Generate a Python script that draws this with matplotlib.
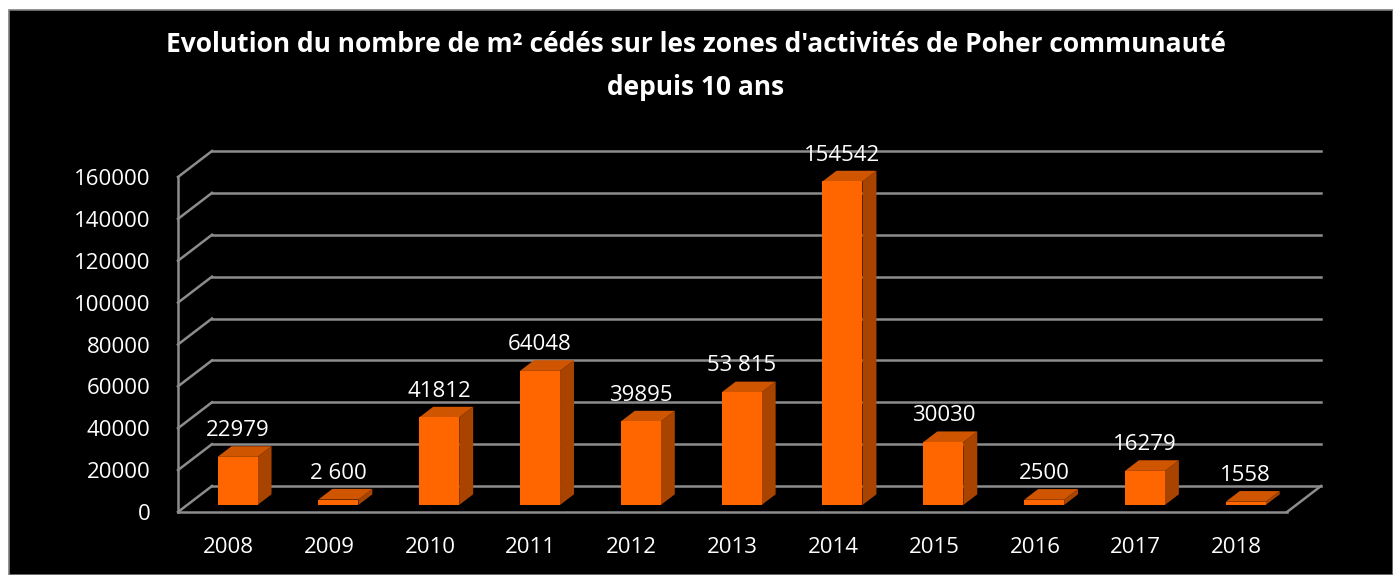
import matplotlib.pyplot as plt
from matplotlib.patches import Polygon, Rectangle

plt.rcParams['font.family'] = ['Open Sans', 'DejaVu Sans']

years = ['2008', '2009', '2010', '2011', '2012', '2013', '2014', '2015', '2016', '2017', '2018']
surfaces = [22979, 2600, 41812, 64048, 39895, 53815, 154542, 30030, 2500, 16279, 1558]
value_labels = ['22979', '2 600', '41812', '64048', '39895', '53 815', '154542', '30030', '2500', '16279', '1558']
yticks = [0, 20000, 40000, 60000, 80000, 100000, 120000, 140000, 160000]
title = "Evolution du nombre de m² cédés sur les zones d'activités de Poher communauté\ndepuis 10 ans"

W, H = 1393, 575
fig = plt.figure(figsize=(W / 100, H / 100), dpi=100, facecolor='white')

# black panel with thin grey frame
fig.add_artist(Rectangle((9 / W, 0), 1 - 9 / W, 1 - 10 / H, transform=fig.transFigure,
                         facecolor='black', edgecolor='#7f7f7f', linewidth=1.2, zorder=0))

# front plane of the pseudo 3D box
x0, x1, y0, y1 = 178, 1287, 512, 177
ax = fig.add_axes([x0 / W, 1 - y0 / H, (x1 - x0) / W, (y0 - y1) / H])
ax.set_facecolor('none')
n = len(years)
ymax = 160000
ax.set_xlim(-0.5, n - 0.5)
ax.set_ylim(0, ymax)

# depth of the box in data units (34 px right, 26 px up)
cat_px = (x1 - x0) / n
DX = 34 / cat_px
DY = 26 * ymax / (y0 - y1)

grid = dict(color='#8c8c8c', linewidth=1.8, clip_on=False, zorder=1)
for v in yticks:
    ax.plot([-0.5 + DX, n - 0.5 + DX], [v + DY, v + DY], **grid)
    ax.plot([-0.5, -0.5 + DX], [v, v + DY], **grid)
ax.plot([-0.5, -0.5], [0, ymax], **grid)
ax.plot([-0.5, n - 0.5], [0, 0], **grid)
ax.plot([n - 0.5, n - 0.5 + DX], [0, DY], **grid)

# bars sit between 27% and 68% of the depth
f1, f2 = 0.27, 0.68
bw = 40 / cat_px
ddx, ddy = (f2 - f1) * DX, (f2 - f1) * DY
for i, v in enumerate(surfaces):
    c = i + f1 * DX
    base = f1 * DY
    top = base + v
    l, r = c - bw / 2, c + bw / 2
    ax.add_patch(Polygon([(r, base), (r + ddx, base + ddy), (r + ddx, top + ddy), (r, top)],
                         closed=True, facecolor='#a84400', edgecolor='none', clip_on=False, zorder=3))
    ax.add_patch(Polygon([(l, top), (r, top), (r + ddx, top + ddy), (l + ddx, top + ddy)],
                         closed=True, facecolor='#cf5500', edgecolor='none', clip_on=False, zorder=3))
    ax.add_patch(Polygon([(l, base), (r, base), (r, top), (l, top)],
                         closed=True, facecolor='#ff6600', edgecolor='none', clip_on=False, zorder=4))
    ax.annotate(value_labels[i], (c, top), xytext=(0, 19), textcoords='offset points',
                ha='center', va='center', color='white', fontsize=16, zorder=5,
                annotation_clip=False)

for s in ax.spines.values():
    s.set_visible(False)
ax.set_xticks(range(n))
ax.set_xticklabels(years)
ax.set_yticks(yticks)
ax.set_yticklabels([str(t) for t in yticks])
ax.tick_params(axis='both', length=0, colors='white', labelsize=16)
ax.tick_params(axis='y', pad=20)
ax.tick_params(axis='x', pad=18)

fig.text(696 / W, 1 - 66 / H, title, ha='center', va='center', color='white',
         fontsize=19, fontweight='bold', linespacing=1.75)

fig.savefig('out.png', dpi=100, facecolor=fig.get_facecolor())
